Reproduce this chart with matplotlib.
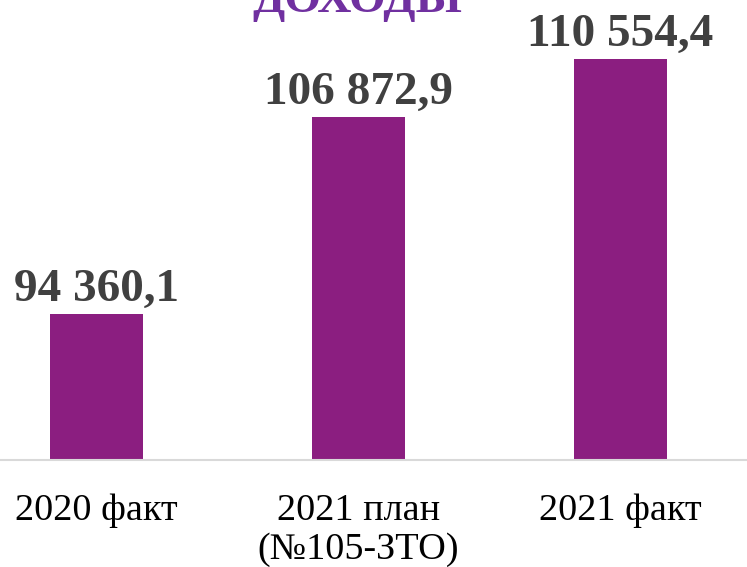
import matplotlib
matplotlib.use("Agg")
import matplotlib.pyplot as plt

categories = ["2020 факт", "2021 план\n(№105-ЗТО)", "2021 факт"]
values = [94360.1, 106872.9, 110554.4]
value_labels = ["94 360,1", "106 872,9", "110 554,4"]
title = "ДОХОДЫ"

bar_color = "#8B1E80"
label_color = "#404040"
title_color = "#7030A0"

fig = plt.figure(figsize=(7.47, 5.67), dpi=100)
ax = fig.add_axes([0, 107 / 567, 1, 460 / 567])

x = list(range(len(categories)))
ax.bar(x, values, width=0.355, color=bar_color, zorder=2)
ax.set_ylim(85088, 114301)
ax.set_xlim(-0.368, 2.483)

for xi, v, lab in zip(x, values, value_labels):
    ax.annotate(lab, (xi, v), xytext=(0, 9.5), textcoords="offset points",
                ha="center", va="baseline", fontsize=34, fontweight="bold",
                family="Liberation Serif", color=label_color)

for s in ["top", "left", "right"]:
    ax.spines[s].set_visible(False)
ax.spines["bottom"].set_color("#D9D9D9")
ax.spines["bottom"].set_linewidth(1.5)
ax.set_yticks([])
ax.set_xticks(x)
ax.set_xticklabels(categories, fontsize=27.5, family="Liberation Serif",
                   color="black", linespacing=1.18)
ax.tick_params(axis="x", length=0, pad=24)

fig.text(357 / 747, 1 - 12 / 567, title, ha="center", va="baseline",
         fontsize=34, fontweight="bold", family="Liberation Serif",
         color=title_color)

fig.savefig("out.png", dpi=100)
